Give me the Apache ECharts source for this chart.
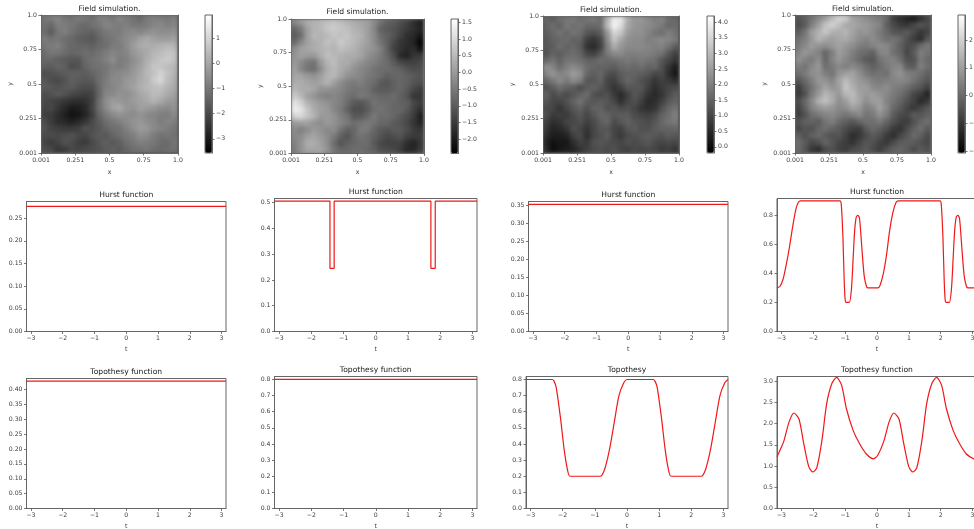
<!DOCTYPE html>
<html lang="en">
	<head>
		<meta charset="UTF-8" />
		<title>Field simulation</title>
		<style>
			* {
				box-sizing: border-box;
				margin: 0;
				padding: 0;
			}

			#chart {
				width: 974px;
				height: 529px;
				background-color: #fff;
			}
		</style>
	</head>
	<body>
		<div id="chart"></div>
		<script src="https://cdn.jsdelivr.net/npm/echarts@6/dist/echarts.min.js"></script>
		<script>
			// field values, read by eye on a 20x20 grid, top row first
			const fieldA = [
				[-1.0,-0.9,-0.7,-1.0,-1.1,-0.9,-1.0,-1.2,-0.8,-0.8,-1.0,-0.7,-0.9,-1.1,-1.3,-0.9,-0.8,-0.9,-1.0,-0.8],
				[-1.1,-1.3,-0.8,-0.9,-1.0,-1.2,-1.3,-1.1,-1.0,-0.7,-0.8,-0.9,-0.8,-1.0,-1.0,-0.9,-0.7,-0.6,-0.8,-0.7],
				[-1.2,-1.6,-1.0,-0.8,-1.1,-1.3,-1.4,-1.5,-1.2,-1.0,-0.9,-0.9,-0.7,-0.6,-0.7,-0.5,-0.4,-0.5,-0.5,-0.4],
				[-0.9,-1.1,-1.0,-1.2,-1.3,-1.5,-1.6,-1.7,-1.4,-1.1,-1.0,-0.8,-0.6,-0.4,-0.1,0.1,-0.1,-0.2,-0.2,-0.1],
				[-1.0,-0.9,-0.8,-1.1,-1.3,-1.4,-1.4,-1.5,-1.3,-1.2,-0.9,-0.9,-0.6,-0.2,0.1,0.2,0.2,0.3,0.4,0.3],
				[-1.2,-1.0,-1.0,-1.2,-1.4,-1.3,-1.2,-1.3,-1.1,-0.9,-0.7,-0.8,-0.7,-0.3,-0.1,0.1,0.4,0.5,0.7,0.6],
				[-1.3,-1.3,-1.5,-1.6,-1.7,-1.7,-1.3,-1.1,-1.0,-0.8,-0.5,-0.9,-0.8,-0.5,-0.2,0.2,0.5,0.7,0.8,0.6],
				[-1.5,-1.6,-1.4,-1.5,-1.9,-1.8,-1.4,-1.2,-1.1,-1.0,-0.8,-0.9,-0.7,-0.4,-0.1,0.3,0.7,0.7,0.5,0.4],
				[-1.9,-1.8,-1.7,-1.6,-1.5,-1.5,-1.6,-1.4,-1.2,-1.0,-0.7,-0.6,-0.5,-0.3,0.0,0.4,0.6,1.0,0.6,0.3],
				[-1.7,-1.9,-2.0,-1.8,-1.5,-1.6,-1.7,-1.6,-1.2,-0.9,-0.6,-0.6,-0.3,-0.2,0.1,0.3,0.8,1.1,0.5,0.2],
				[-1.6,-1.7,-1.8,-1.7,-1.6,-1.8,-1.9,-1.9,-1.3,-0.8,-0.7,-0.5,-0.3,-0.1,0.2,0.4,0.5,0.6,0.3,0.1],
				[-1.9,-1.8,-1.6,-1.8,-2.0,-2.1,-2.2,-2.1,-1.4,-0.7,-0.6,-0.4,-0.5,-0.3,0.0,0.2,0.5,0.4,0.1,-0.1],
				[-2.0,-2.1,-2.2,-2.4,-2.5,-2.6,-2.5,-2.2,-1.2,-0.5,-0.2,-0.3,-0.4,-0.2,-0.1,0.1,0.3,0.1,-0.2,-0.3],
				[-2.1,-2.0,-2.4,-2.7,-3.0,-2.9,-2.7,-2.1,-1.2,-0.6,-0.1,0.1,-0.3,-0.4,-0.1,-0.2,-0.3,-0.5,-0.6,-0.4],
				[-2.2,-2.3,-2.6,-2.9,-3.2,-3.1,-2.8,-2.3,-1.4,-0.9,-0.6,-0.4,-0.5,-0.6,-0.4,-0.6,-0.7,-0.8,-0.9,-0.6],
				[-1.9,-2.3,-2.6,-2.7,-2.9,-2.7,-2.4,-2.0,-1.6,-1.2,-1.0,-0.8,-0.6,-0.4,-0.3,-0.5,-0.6,-0.9,-0.7,-0.8],
				[-1.8,-2.1,-2.2,-2.3,-2.3,-2.2,-1.8,-1.9,-1.7,-1.4,-1.2,-1.1,-0.8,-0.5,-0.2,-0.3,-0.6,-0.7,-0.9,-1.0],
				[-2.0,-1.9,-2.0,-1.9,-1.8,-2.0,-2.1,-1.8,-1.6,-1.7,-1.4,-1.2,-1.0,-0.8,-0.5,-0.6,-0.9,-1.1,-1.0,-1.1],
				[-2.1,-2.3,-2.1,-1.8,-1.9,-2.2,-2.3,-2.0,-1.7,-1.5,-1.7,-1.5,-1.2,-1.0,-0.8,-0.9,-1.0,-1.2,-1.3,-1.0],
				[-1.9,-2.0,-2.4,-2.3,-2.0,-2.1,-2.0,-1.9,-1.8,-1.6,-1.5,-1.6,-1.4,-1.2,-1.1,-1.0,-1.2,-1.3,-1.2,-1.1]
			]
			const fieldB = [
				[-0.3,0.0,0.3,0.4,0.5,0.6,0.7,0.6,0.4,0.3,0.2,0.1,-0.2,-0.6,-0.9,-1.0,-1.2,-1.4,-1.7,-2.0],
				[-0.8,-0.5,0.1,0.4,0.5,0.7,0.8,0.7,0.6,0.4,0.3,0.1,-0.3,-0.9,-1.0,-1.1,-1.3,-1.5,-1.7,-1.9],
				[-1.0,-0.7,0.1,0.5,0.4,0.5,0.7,0.6,0.7,0.5,0.4,0.1,-0.2,-0.7,-0.9,-1.1,-1.4,-1.7,-1.8,-2.1],
				[-0.8,-0.3,0.1,0.3,0.4,0.6,0.5,0.8,0.6,0.5,0.3,0.1,-0.2,-0.6,-0.9,-1.3,-1.6,-1.7,-1.9,-2.4],
				[-0.2,0.1,0.2,0.3,0.4,0.5,0.4,0.6,0.5,0.4,0.2,0.0,-0.1,-0.4,-0.9,-1.4,-1.6,-1.8,-1.7,-2.2],
				[-0.1,0.1,0.0,0.0,0.3,0.6,0.5,0.4,0.3,0.3,0.2,-0.1,-0.3,-0.5,-0.8,-1.2,-1.8,-1.9,-1.6,-1.5],
				[0.0,-0.2,-0.5,-0.6,0.0,0.4,0.6,0.3,0.3,0.1,-0.1,-0.3,-0.4,-0.6,-0.7,-1.0,-1.3,-1.4,-1.4,-1.3],
				[0.1,-0.3,-0.6,-0.7,-0.2,0.3,0.5,0.3,0.1,-0.1,-0.3,-0.4,-0.6,-0.7,-0.7,-0.8,-0.9,-1.1,-1.2,-1.2],
				[0.2,0.2,0.0,-0.1,0.1,0.4,0.5,0.2,-0.1,-0.2,-0.3,-0.5,-0.6,-0.7,-0.9,-0.8,-0.8,-0.9,-1.0,-1.1],
				[0.3,0.3,0.2,0.1,0.2,0.4,0.1,-0.2,-0.4,-0.5,-0.4,-0.6,-0.7,-1.0,-1.1,-0.9,-0.8,-0.9,-1.1,-1.2],
				[0.5,0.3,0.3,0.2,-0.1,-0.1,-0.2,-0.3,-0.5,-0.6,-0.6,-0.6,-0.9,-1.0,-1.0,-0.9,-0.8,-1.0,-1.3,-1.5],
				[0.8,0.5,0.1,-0.1,-0.3,-0.4,-0.3,-0.4,-0.6,-0.7,-0.5,-0.6,-0.7,-0.8,-0.8,-0.7,-0.9,-1.1,-1.6,-1.6],
				[1.2,0.9,0.4,0.2,0.0,-0.1,-0.3,-0.4,-0.7,-1.0,-1.1,-0.9,-0.6,-0.7,-0.7,-0.8,-0.9,-0.9,-1.3,-1.5],
				[1.4,1.2,0.7,0.3,0.1,0.0,-0.3,-0.5,-0.9,-1.2,-1.2,-1.0,-0.7,-0.6,-0.7,-0.8,-0.8,-1.0,-1.4,-1.7],
				[0.9,1.0,0.7,0.4,0.0,0.0,-0.1,-0.4,-0.6,-1.0,-1.0,-0.8,-0.5,-0.7,-0.7,-0.8,-1.0,-1.2,-1.5,-2.0],
				[0.0,0.1,0.1,-0.1,-0.2,0.0,-0.1,-0.3,-0.5,-0.7,-0.6,-0.5,-0.6,-0.8,-0.8,-1.0,-1.1,-1.3,-1.6,-1.9],
				[-0.2,-0.4,-0.2,0.0,-0.1,-0.3,-0.2,-0.6,-0.9,-0.8,-0.5,-0.5,-0.8,-1.0,-1.1,-1.0,-1.0,-1.2,-1.5,-1.6],
				[-0.3,-0.2,0.1,0.2,0.0,-0.2,-0.5,-0.9,-1.1,-0.8,-0.6,-0.7,-0.9,-1.1,-1.3,-1.2,-1.1,-1.4,-1.5,-1.5],
				[-0.4,-0.1,0.3,0.3,0.1,-0.2,-0.7,-1.1,-0.9,-0.8,-0.7,-0.7,-1.0,-1.3,-1.4,-1.4,-1.4,-1.7,-1.9,-1.6],
				[-0.5,-0.1,0.2,0.2,0.2,-0.1,-0.6,-0.8,-0.8,-0.7,-0.7,-0.8,-0.9,-1.2,-1.2,-1.3,-1.5,-1.8,-1.8,-1.5]
			]
			const fieldC = [
				[1.6,1.4,1.7,1.8,1.9,1.7,1.8,1.9,1.7,2.9,3.9,3.8,2.8,2.4,2.4,2.2,2.0,2.1,1.7,1.6],
				[1.5,1.7,1.5,1.9,1.7,1.8,1.6,1.6,1.7,3.0,4.0,3.6,2.7,2.4,2.3,2.2,2.1,1.9,1.6,1.7],
				[1.4,1.6,1.8,1.6,1.8,1.7,1.3,1.2,1.4,2.4,3.5,3.2,2.5,2.3,2.3,2.1,1.8,1.7,2.0,1.8],
				[1.3,1.5,1.6,1.7,1.5,1.5,0.9,0.7,1.0,2.2,3.2,2.7,2.3,2.2,2.2,2.0,2.1,2.2,2.1,1.9],
				[1.3,1.4,1.7,1.5,1.6,1.4,0.7,0.5,0.9,2.0,2.8,2.4,2.2,2.2,2.2,2.1,2.0,2.1,1.8,1.4],
				[1.2,1.5,1.4,1.6,1.7,1.5,1.0,0.9,1.3,1.9,2.2,2.2,2.0,2.0,2.0,2.0,1.9,1.8,1.3,0.9],
				[1.6,1.8,1.5,1.8,1.8,1.7,1.5,1.5,1.7,1.6,1.7,1.8,1.9,1.8,1.9,1.8,1.7,1.3,1.0,0.7],
				[2.3,2.1,1.7,2.0,2.2,2.0,1.7,1.6,1.5,1.5,1.4,1.6,1.7,1.6,1.7,1.5,1.6,1.2,0.7,0.3],
				[2.1,2.4,2.1,2.2,2.5,2.3,1.6,1.4,1.6,1.2,1.1,1.4,1.5,1.5,1.4,1.3,1.0,1.1,0.6,0.2],
				[1.6,1.9,2.2,1.9,2.2,2.0,1.3,1.3,1.5,1.0,0.9,1.3,1.6,1.4,1.2,1.0,0.7,0.9,0.8,0.6],
				[1.2,1.4,1.7,1.5,1.4,1.1,1.4,1.5,1.3,1.0,0.7,0.9,1.3,1.3,1.3,0.9,0.6,0.8,1.0,1.1],
				[1.5,1.1,1.3,1.1,1.3,1.5,1.7,1.2,1.1,1.2,0.8,0.5,0.9,1.3,1.1,0.7,0.5,0.7,1.1,1.4],
				[1.3,1.0,1.0,1.2,1.5,1.8,1.4,1.3,1.4,1.3,1.0,0.6,1.0,1.2,0.9,0.5,0.6,0.9,1.3,1.5],
				[1.1,1.0,0.7,1.0,1.3,1.5,1.2,1.5,1.5,1.2,1.3,1.1,1.2,1.0,0.7,0.6,0.7,1.2,1.6,1.8],
				[1.2,0.8,0.9,0.8,1.1,1.3,1.0,1.3,1.6,1.5,1.3,1.4,1.4,1.1,1.0,0.9,1.1,1.5,1.7,2.0],
				[0.9,0.6,0.7,1.0,1.0,1.2,0.9,1.1,1.4,1.6,1.1,1.3,1.5,1.3,1.2,1.1,1.3,1.6,1.8,1.9],
				[0.8,0.4,0.5,0.7,1.2,1.0,0.7,1.0,1.3,1.3,1.0,0.9,1.3,1.4,1.2,1.2,1.4,1.5,1.5,1.6],
				[0.6,0.3,0.3,0.4,0.9,1.1,0.6,1.0,1.2,1.4,1.0,0.8,1.1,1.2,1.3,1.4,1.3,1.2,1.4,1.3],
				[0.4,0.1,0.2,0.2,0.6,0.9,0.8,1.2,1.3,1.2,1.1,1.0,1.2,1.1,1.2,1.3,1.1,1.0,1.1,1.0],
				[0.5,0.0,0.2,0.3,0.4,0.7,0.9,1.1,1.2,1.1,1.2,1.0,0.9,1.1,1.0,1.1,1.0,0.8,0.9,0.7]
			]
			const fieldD = [
				[-0.5,-0.2,0.2,0.6,1.0,1.6,2.1,1.9,1.1,0.9,0.7,0.5,0.3,0.0,-0.9,-1.2,-1.4,-1.6,-1.2,-0.7],
				[-0.6,-0.3,0.4,1.0,1.7,2.0,1.7,1.2,1.2,1.0,0.9,0.7,0.5,-0.2,-0.6,-0.9,-1.0,-0.7,-0.4,-0.6],
				[-0.3,0.2,1.0,1.4,1.8,1.4,1.3,1.5,1.1,0.8,0.9,0.6,0.3,0.0,-0.4,-0.5,-0.3,-0.6,-1.0,-0.8],
				[0.1,0.4,0.9,1.5,1.2,1.0,1.2,1.3,1.0,0.7,0.5,0.7,0.4,0.1,0.2,0.0,-0.5,-0.9,-1.2,-0.4],
				[0.3,0.6,1.0,0.8,0.7,0.9,1.1,0.9,0.7,0.4,0.3,0.5,0.7,0.6,0.2,-0.2,-0.6,-0.5,0.0,0.3],
				[0.5,0.9,0.7,0.5,-0.1,0.4,1.0,0.8,0.4,0.1,0.0,-0.2,0.5,0.6,0.1,-0.1,-0.7,-0.3,0.4,0.2],
				[0.8,0.5,0.3,0.7,-0.1,0.5,0.9,0.6,0.3,0.0,-0.3,-0.4,0.2,0.4,0.5,0.1,-0.5,-0.5,0.3,0.0],
				[0.4,0.2,0.6,0.9,0.1,0.3,0.6,0.4,0.6,0.4,0.1,-0.2,0.0,0.3,0.5,0.6,-0.2,-0.3,0.4,0.1],
				[0.1,0.3,0.7,0.8,0.4,0.2,0.8,1.0,1.1,0.7,0.3,0.1,0.2,0.1,0.6,0.8,0.4,0.3,0.1,-0.2],
				[-0.4,0.0,0.4,0.9,0.8,0.5,1.1,1.6,1.2,0.9,0.7,0.4,0.3,0.4,0.5,0.6,0.5,0.2,-0.1,-0.4],
				[-0.9,-0.3,0.2,0.7,1.1,0.8,1.0,1.8,1.4,1.0,1.0,0.6,0.5,0.7,0.4,0.3,0.1,-0.2,-0.4,-0.8],
				[-1.0,-0.5,0.3,0.9,1.5,1.2,0.9,1.5,1.6,1.1,0.9,1.0,0.8,0.6,0.3,0.1,-0.2,-0.7,-0.9,-1.4],
				[-0.6,0.0,0.6,1.4,1.7,1.3,0.7,1.0,1.5,1.2,0.7,1.0,1.0,0.5,0.2,-0.1,-0.5,-0.8,-1.3,-1.0],
				[-0.8,-0.2,0.5,0.8,1.0,0.9,0.6,0.7,1.1,0.9,0.4,0.6,1.1,0.6,0.0,-0.3,-0.7,-1.0,-0.7,-0.4],
				[-0.9,-0.5,0.1,0.3,0.5,0.6,0.4,0.2,0.4,0.6,0.2,0.3,0.8,0.4,-0.3,-0.6,-0.7,-0.3,-0.4,-0.2],
				[-0.5,-0.2,-0.1,-0.3,0.2,0.4,0.0,-0.2,-0.4,-0.1,0.1,0.1,0.3,-0.1,-0.5,-0.8,-0.9,-0.5,-0.1,0.1],
				[-0.7,-0.4,-0.5,-0.1,0.1,-0.1,-0.3,-0.6,-0.8,-0.9,-0.3,0.0,-0.2,-0.5,-0.9,-1.1,-0.6,-0.2,0.1,-0.3],
				[-0.2,-0.5,-0.2,0.0,-0.3,-0.5,-0.4,-0.8,-1.2,-1.0,-0.6,-0.3,-0.5,-0.9,-1.2,-0.7,-0.4,0.0,-0.2,-0.6],
				[0.1,-0.3,-0.7,-0.5,-0.1,-0.4,-0.7,-0.9,-1.1,-0.7,-0.4,-0.5,-0.8,-1.0,-0.6,-0.3,-0.2,-0.3,-0.5,-0.7],
				[0.0,-0.4,-1.0,-1.2,-0.6,-0.5,-0.8,-0.9,-0.6,-0.5,-0.3,-0.6,-0.9,-0.5,-0.2,-0.1,-0.3,-0.6,-0.3,-0.5]
			]

			const fieldTicks = [0.001, 0.251, 0.5, 0.75, 1]
			const fieldTickLabels = ['0.001', '0.251', '0.5', '0.75', '1.0']
			const barTicksA = [-3, -2, -1, 0, 1]
			const barTicksB = [-2, -1.5, -1, -0.5, 0, 0.5, 1, 1.5]
			const barTicksC = [0, 0.5, 1, 1.5, 2, 2.5, 3, 3.5, 4]
			const barTicksD = [-2, -1, 0, 1, 2]
			const tTicks = [-3, -2, -1, 0, 1, 2, 3]

			// curves, [t, value]
			const hurstA = [[-3.14, 0.276], [3.14, 0.276]]
			const hurstB = [[-3.14, 0.505], [-1.42, 0.505], [-1.42, 0.245], [-1.29, 0.245], [-1.29, 0.505], [1.71, 0.505], [1.71, 0.245], [1.845, 0.245], [1.845, 0.505], [3.14, 0.505]]
			const hurstC = [[-3.14, 0.352], [3.14, 0.352]]
			const hurstD = [[-3.14, 0.3], [-3.05, 0.31], [-2.95, 0.36], [-2.85, 0.46], [-2.75, 0.58], [-2.65, 0.72], [-2.55, 0.84], [-2.47, 0.89], [-2.4, 0.9], [-1.16, 0.9], [-1.12, 0.87], [-1.07, 0.65], [-1.03, 0.35], [-1.0, 0.22], [-0.97, 0.2], [-0.87, 0.2], [-0.8, 0.3], [-0.75, 0.5], [-0.7, 0.7], [-0.65, 0.79], [-0.6, 0.8], [-0.55, 0.78], [-0.5, 0.65], [-0.45, 0.5], [-0.4, 0.38], [-0.33, 0.31], [-0.28, 0.3], [0.03, 0.3], [0.1, 0.32], [0.2, 0.4], [0.3, 0.53], [0.4, 0.7], [0.5, 0.82], [0.6, 0.89], [0.67, 0.9], [1.98, 0.9], [2.02, 0.87], [2.07, 0.65], [2.11, 0.35], [2.14, 0.22], [2.17, 0.2], [2.27, 0.2], [2.34, 0.3], [2.39, 0.5], [2.44, 0.7], [2.49, 0.79], [2.54, 0.8], [2.59, 0.78], [2.64, 0.65], [2.69, 0.5], [2.74, 0.38], [2.81, 0.31], [2.86, 0.3], [3.14, 0.3]]
			const topoA = [[-3.14, 0.428], [3.14, 0.428]]
			const topoB = [[-3.14, 0.8], [3.14, 0.8]]
			const topoC = [[-3.14, 0.8], [-2.33, 0.8], [-2.27, 0.79], [-2.2, 0.75], [-2.07, 0.565], [-1.95, 0.36], [-1.85, 0.24], [-1.77, 0.2], [-0.83, 0.2], [-0.7, 0.24], [-0.55, 0.36], [-0.4, 0.53], [-0.25, 0.7], [-0.1, 0.78], [0, 0.8], [0.81, 0.8], [0.87, 0.79], [0.94, 0.75], [1.07, 0.565], [1.19, 0.36], [1.29, 0.24], [1.37, 0.2], [2.31, 0.2], [2.44, 0.24], [2.59, 0.36], [2.74, 0.53], [2.89, 0.7], [3.04, 0.78], [3.14, 0.8]]
			const topoD = [[-3.14, 1.22], [-3.0, 1.45], [-2.92, 1.6], [-2.76, 2.04], [-2.61, 2.25], [-2.45, 2.11], [-2.3, 1.53], [-2.14, 0.98], [-2.01, 0.86], [-1.89, 0.96], [-1.73, 1.6], [-1.58, 2.47], [-1.42, 2.94], [-1.27, 3.09], [-1.11, 2.9], [-0.96, 2.35], [-0.75, 1.84], [-0.55, 1.53], [-0.34, 1.29], [-0.11, 1.17], [0.02, 1.25], [0.22, 1.6], [0.38, 2.04], [0.53, 2.25], [0.69, 2.11], [0.84, 1.53], [1.0, 0.98], [1.13, 0.86], [1.25, 0.96], [1.41, 1.6], [1.56, 2.47], [1.72, 2.94], [1.87, 3.09], [2.03, 2.9], [2.18, 2.35], [2.39, 1.84], [2.59, 1.53], [2.8, 1.29], [3.03, 1.17], [3.14, 1.15]]

			const font = 'DejaVu Sans'
			const textColor = '#3c3c3c'
			const spine = '#666'

			const option = {
				animation: false,
				backgroundColor: '#fff',
				title: [],
				grid: [],
				xAxis: [],
				yAxis: [],
				visualMap: [],
				series: []
			}
			// rects the blurred field layer is cut to
			let fieldClip = ''

			function minus(s) {
				return String(s).replace('-', '\u2212')
			}

			function addTitle(text, x, y) {
				option.title.push({
					text,
					left: x,
					top: y,
					textAlign: 'center',
					textVerticalAlign: 'middle',
					padding: 0,
					textStyle: { fontFamily: font, fontSize: 7.6, fontWeight: 'normal', color: '#222' }
				})
			}

			function labelStyle(ticks, fmt) {
				return {
					customValues: ticks,
					formatter: fmt,
					fontFamily: font,
					fontSize: 6.2,
					color: textColor,
					margin: 4,
					hideOverlap: false
				}
			}

			function valueAxis(ticks, fmt, min, max, extra) {
				return Object.assign({
					type: 'value',
					min,
					max,
					splitLine: { show: false },
					axisLine: { show: true, onZero: false, lineStyle: { color: spine, width: 1 } },
					axisTick: { show: true, customValues: ticks, length: 2.5, lineStyle: { color: '#555', width: 0.8 } },
					axisLabel: labelStyle(ticks, fmt),
					nameTextStyle: { fontFamily: font, fontSize: 6.2, color: textColor }
				}, extra)
			}

			function addField(title, titleY, values, p, barLeft, barTicks, barDigits, vmin, vmax, under) {
				const g = option.grid.length
				const w = p.right - p.left
				const h = p.bottom - p.top
				addTitle(title, (p.left + p.right) / 2, titleY)
				option.grid.push({
					left: p.left, top: p.top, width: w, height: h, outerBoundsMode: 'none',
					show: true, backgroundColor: under, borderWidth: 0
				})
				fieldClip += `M${p.left + 0.5} ${p.top + 0.5}H${p.right - 0.5}V${p.bottom - 0.5}H${p.left + 0.5}Z `
				const cells = []
				values.forEach((row, r) => row.forEach((v, c) => cells.push([c, r, v])))
				const xi = option.xAxis.length
				const yi = option.yAxis.length
				const idx = values.map((_, i) => i)
				// ticks and labels
				option.xAxis.push(valueAxis(fieldTicks, v => fieldTickLabels[fieldTicks.indexOf(v)], 0.001, 1, {
					gridIndex: g, position: 'bottom', name: 'x', nameLocation: 'middle', nameGap: 16
				}))
				option.yAxis.push(valueAxis(fieldTicks, v => fieldTickLabels[fieldTicks.indexOf(v)], 0.001, 1, {
					gridIndex: g, position: 'left', name: 'y', nameLocation: 'middle', nameGap: 28
				}))
				// cell axes, these also close the frame on top and right
				const hidden = {
					type: 'category',
					data: idx,
					gridIndex: g,
					axisLine: { show: true, onZero: false, lineStyle: { color: spine, width: 1 } },
					axisTick: { show: false },
					axisLabel: { show: false },
					splitLine: { show: false }
				}
				option.xAxis.push(Object.assign({}, hidden, { position: 'top' }))
				option.yAxis.push(Object.assign({}, hidden, { position: 'right', inverse: true }))
				const s = option.series.length
				option.series.push({
					type: 'heatmap',
					xAxisIndex: xi + 1,
					yAxisIndex: yi + 1,
					data: cells,
					silent: true,
					progressive: 0,
					zlevel: 1
				})
				// colorbar
				option.visualMap.push({
					type: 'continuous',
					show: true,
					seriesIndex: s,
					min: vmin,
					max: vmax,
					left: barLeft,
					top: p.top,
					itemWidth: 7,
					itemHeight: h,
					padding: 0,
					calculable: false,
					hoverLink: false,
					text: null,
					showLabel: false,
					inRange: { color: ['#000', '#fff'] }
				})
				const bg = option.grid.length
				option.grid.push({
					left: barLeft, top: p.top, width: 7, height: h, outerBoundsMode: 'none',
					show: true, borderColor: spine, borderWidth: 1, backgroundColor: 'transparent', z: 10
				})
				option.xAxis.push({ type: 'value', gridIndex: bg, min: 0, max: 1, show: false })
				option.yAxis.push(valueAxis(barTicks, v => minus(v.toFixed(barDigits)), vmin, vmax, {
					gridIndex: bg, position: 'right', z: 10
				}))
			}

			function addLine(title, titleY, curve, p, ticks, digits, top, smooth) {
				const g = option.grid.length
				addTitle(title, (p.left + p.right) / 2, titleY)
				option.grid.push({
					left: p.left, top: p.top, width: p.right - p.left, height: p.bottom - p.top, outerBoundsMode: 'none',
					show: true, borderColor: spine, borderWidth: 1
				})
				const xi = option.xAxis.length
				option.xAxis.push(valueAxis(tTicks, v => minus(v), -3.14, 3.14, {
					gridIndex: g, name: 't', nameLocation: 'middle', nameGap: 15
				}))
				option.yAxis.push(valueAxis(ticks, v => v.toFixed(digits), 0, top, { gridIndex: g }))
				option.series.push({
					type: 'line',
					xAxisIndex: xi,
					yAxisIndex: xi,
					data: curve,
					showSymbol: false,
					silent: true,
					clip: true,
					smooth: smooth ? 0.25 : false,
					lineStyle: { color: '#f01818', width: 1.2 }
				})
			}

			addField('Field simulation.', 9, fieldA, { left: 41, right: 178, top: 15, bottom: 153 }, 205, barTicksA, 0, -3.56, 1.92, '#5c5c5c')
			addField('Field simulation.', 12.5, fieldB, { left: 291, right: 424, top: 19, bottom: 153.5 }, 451, barTicksB, 1, -2.43, 1.6, '#777')
			addField('Field simulation.', 10, fieldC, { left: 543, right: 679, top: 16, bottom: 153 }, 707, barTicksC, 1, -0.2, 4.2, '#555')
			addField('Field simulation.', 9, fieldD, { left: 795, right: 931, top: 15, bottom: 153 }, 958, barTicksD, 0, -2.07, 2.9, '#666')

			addLine('Hurst function', 195.5, hurstA, { left: 26.5, right: 226, top: 201.5, bottom: 331.5 }, [0, 0.05, 0.1, 0.15, 0.2, 0.25], 2, 0.2868)
			addLine('Hurst function', 192.5, hurstB, { left: 274.5, right: 477, top: 198.5, bottom: 331.5 }, [0, 0.1, 0.2, 0.3, 0.4, 0.5], 1, 0.5155)
			addLine('Hurst function', 195.5, hurstC, { left: 528.5, right: 728, top: 201.5, bottom: 331.5 }, [0, 0.05, 0.1, 0.15, 0.2, 0.25, 0.3, 0.35], 2, 0.36)
			addLine('Hurst function', 192.5, hurstD, { left: 777, right: 977, top: 198.5, bottom: 331.5 }, [0, 0.2, 0.4, 0.6, 0.8], 1, 0.916, true)

			addLine('Topothesy function', 372.5, topoA, { left: 26.5, right: 226, top: 378.5, bottom: 508.5 }, [0, 0.05, 0.1, 0.15, 0.2, 0.25, 0.3, 0.35, 0.4], 2, 0.437)
			addLine('Topothesy function', 370.5, topoB, { left: 274.5, right: 477, top: 376.5, bottom: 508.5 }, [0, 0.1, 0.2, 0.3, 0.4, 0.5, 0.6, 0.7, 0.8], 1, 0.8176)
			addLine('Topothesy', 370.5, topoC, { left: 526, right: 728, top: 376.5, bottom: 508.5 }, [0, 0.1, 0.2, 0.3, 0.4, 0.5, 0.6, 0.7, 0.8], 1, 0.8186, true)
			addLine('Topothesy function', 370.5, topoD, { left: 777, right: 977, top: 376.5, bottom: 508.5 }, [0, 0.5, 1, 1.5, 2, 2.5, 3], 1, 3.11, true)

			const chart = echarts.init(document.getElementById('chart'), null, { renderer: 'canvas' })
			chart.setOption(option)

			// the reference image is interpolated, soften the field layer the same way
			const layer = document.querySelector('canvas[data-zr-dom-id="zr_1"]')
			if (layer) {
				layer.style.filter = 'blur(2px)'
				layer.style.clipPath = `path("${fieldClip}")`
			}
		</script>
	</body>
</html>
